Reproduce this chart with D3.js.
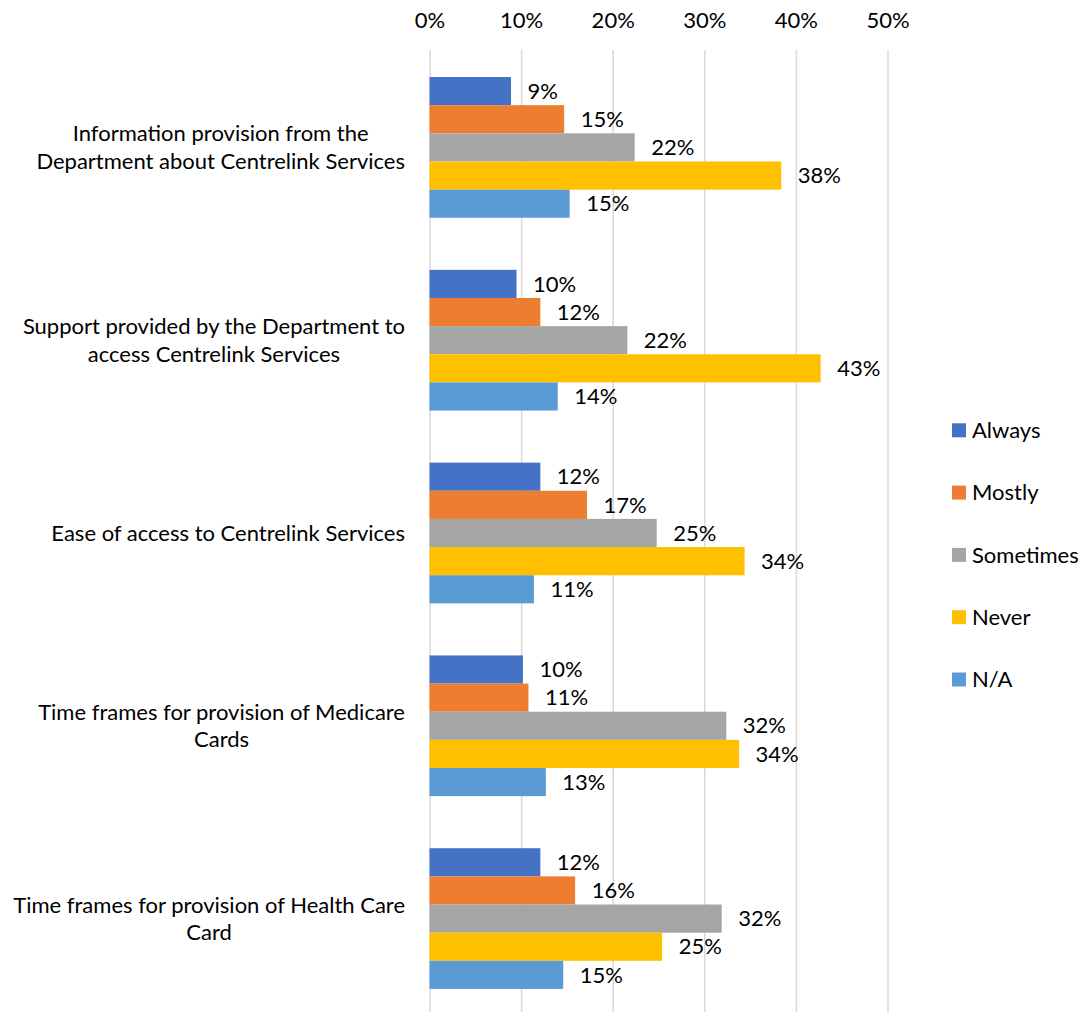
<!DOCTYPE html>
<html>
<head>
<meta charset="utf-8">
<script src="https://cdn.jsdelivr.net/npm/d3@7"></script>
<style>
  html, body { margin: 0; padding: 0; background: #ffffff; }
  svg { display: block; }
  text { font-family: Lato, "Open Sans", sans-serif; fill: #000; }
</style>
</head>
<body>
<svg id="chart" width="1082" height="1012"></svg>
<script>
// ---- Data ----
const categories = [
  "Information provision from the Department about Centrelink Services",
  "Support provided by the Department to access Centrelink Services",
  "Ease of access to Centrelink Services",
  "Time frames for provision of Medicare Cards",
  "Time frames for provision of Health Care Card"
];
const categoryLines = [
  ["Information provision from the", "Department about Centrelink Services"],
  ["Support provided by the Department to", "access Centrelink Services"],
  ["Ease of access to Centrelink Services"],
  ["Time frames for provision of Medicare", "Cards"],
  ["Time frames for provision of Health Care", "Card"]
];
const seriesNames = ["Always", "Mostly", "Sometimes", "Never", "N/A"];
const seriesColors = ["#4472C4", "#ED7D31", "#A5A5A5", "#FFC000", "#5B9BD5"];
const always    = [0.089, 0.095, 0.121, 0.102, 0.121];
const mostly    = [0.147, 0.121, 0.172, 0.108, 0.159];
const sometimes = [0.224, 0.216, 0.248, 0.324, 0.319];
const never     = [0.384, 0.427, 0.344, 0.338, 0.254];
const na        = [0.153, 0.140, 0.114, 0.127, 0.146];
const tickValues = [0, 0.1, 0.2, 0.3, 0.4, 0.5];

const seriesValues = [always, mostly, sometimes, never, na];

// ---- Layout ----
const svg = d3.select("#chart");
const FONT = 22;

const x = d3.scaleLinear().domain([0, 0.5]).range([429.5, 887.5]);
const y0 = d3.scaleBand().domain(categories).range([51, 1015])
  .paddingInner(0.27).paddingOuter(0.135);
const y1 = d3.scaleBand().domain(seriesNames).range([0, y0.bandwidth()]);
const color = d3.scaleOrdinal().domain(seriesNames).range(seriesColors);
const fmt = d3.format(".0%");

// gridlines + top axis
const axis = d3.axisTop(x).tickValues(tickValues).tickFormat(fmt)
  .tickSize(-(1012 - 50)).tickPadding(0);
const gAxis = svg.append("g").attr("transform", "translate(0,50)").call(axis);
gAxis.select(".domain").remove();
gAxis.selectAll(".tick line").attr("stroke", "#D9D9D9").attr("stroke-width", 1.5);
gAxis.selectAll(".tick text")
  .attr("y", -30).attr("dy", "0.35em")
  .style("font-size", FONT + "px").style("font-family", "Lato, sans-serif")
  .attr("fill", "#000");

// bars
const rows = categories.map((c, i) => ({
  cat: c,
  vals: seriesNames.map((s, j) => ({ series: s, value: seriesValues[j][i] }))
}));

const groups = svg.append("g").selectAll("g.grp").data(rows).join("g")
  .attr("class", "grp")
  .attr("transform", d => `translate(0,${y0(d.cat)})`);

groups.selectAll("rect").data(d => d.vals).join("rect")
  .attr("x", x(0))
  .attr("y", d => y1(d.series))
  .attr("width", d => x(d.value) - x(0))
  .attr("height", y1.bandwidth())
  .attr("fill", d => color(d.series));

groups.selectAll("text.val").data(d => d.vals).join("text")
  .attr("class", "val")
  .attr("x", d => x(d.value) + 16.5)
  .attr("y", d => y1(d.series) + y1.bandwidth() / 2)
  .attr("dy", "0.35em")
  .style("font-size", FONT + "px")
  .text(d => fmt(Math.round(d.value * 100) / 100));

// category labels (centered lines, block right-aligned)
const labelRight = 405;
const lineH = 27.6;
categories.forEach((c, i) => {
  const lines = categoryLines[i];
  const cy = y0(c) + y0.bandwidth() / 2;
  const g = svg.append("g");
  const texts = lines.map((ln, k) => g.append("text")
    .attr("y", cy + (k - (lines.length - 1) / 2) * lineH)
    .attr("dy", "0.35em")
    .attr("text-anchor", "middle")
    .style("font-size", FONT + "px")
    .text(ln));
  const maxW = d3.max(texts, t => t.node().getComputedTextLength());
  texts.forEach(t => t.attr("x", labelRight - maxW / 2));
});

// legend
const legend = svg.append("g").selectAll("g").data(seriesNames).join("g")
  .attr("transform", (d, i) => `translate(952,${430.3 + i * 62.3})`);
legend.append("rect")
  .attr("x", 0).attr("y", -7).attr("width", 14).attr("height", 14)
  .attr("fill", d => color(d));
legend.append("text")
  .attr("x", 20).attr("y", 0).attr("dy", "0.35em")
  .style("font-size", FONT + "px")
  .text(d => d);
</script>
</body>
</html>
